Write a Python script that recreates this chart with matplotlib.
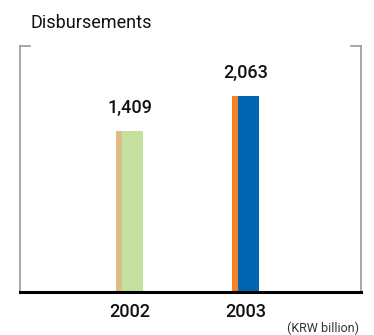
import matplotlib
matplotlib.use("Agg")
import matplotlib.pyplot as plt

# Disbursements by year (KRW billion)
years = ["2002", "2003"]
disbursements = [1409, 2063]
main_colors = ["#c5df9e", "#0066b3"]
edge_colors = ["#dcbc88", "#f58220"]

base = -1580  # bars start from the bottom of the plot area

plt.rcParams["font.family"] = ["Roboto", "DejaVu Sans"]

fig = plt.figure(figsize=(3.74, 3.35), dpi=100)
ax = fig.add_axes([20 / 374, 43 / 335, 341 / 374, 246 / 335])

x = list(range(len(years)))
width = 0.233
strip = 0.048
for i, v in enumerate(disbursements):
    ax.bar(x[i], v - base, bottom=base, width=width, color=main_colors[i], linewidth=0)
    ax.bar(x[i] - width / 2 + strip / 2, v - base, bottom=base, width=strip,
           color=edge_colors[i], linewidth=0)
    ax.text(x[i], v + 270, f"{v:,}", ha="center", va="bottom",
            fontsize=13, fontweight="medium", color="#111111")

ax.set_xlim(-0.944, 1.99)
ax.set_ylim(base, 3000)

ax.set_xticks(x)
ax.set_xticklabels(years, fontsize=13, fontweight="medium", color="#111111")
ax.tick_params(axis="x", length=0, pad=8)
ax.set_yticks([])

for side in ["left", "right"]:
    ax.spines[side].set_color("#999999")
    ax.spines[side].set_linewidth(1.2)
ax.spines["top"].set_visible(False)
ax.spines["bottom"].set_color("#000000")
ax.spines["bottom"].set_linewidth(2.2)

# short corner ticks on the top edge
ax.plot([0, 0.03], [1, 1], transform=ax.transAxes, color="#999999", lw=1.2, clip_on=False)
ax.plot([0.97, 1], [1, 1], transform=ax.transAxes, color="#999999", lw=1.2, clip_on=False)

fig.text(31 / 374, 1 - 28 / 335, "Disbursements", fontsize=13, color="#111111",
         ha="left", va="baseline")
fig.text(359 / 374, 1 - 332 / 335, "(KRW billion)", fontsize=9, color="#333333",
         ha="right", va="baseline")

fig.savefig("out.png", dpi=100)
